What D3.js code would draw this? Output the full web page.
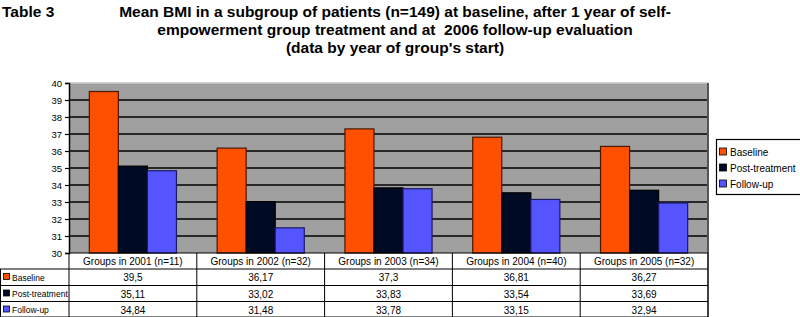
<!DOCTYPE html>
<html>
<head>
<meta charset="utf-8">
<script src="https://cdn.jsdelivr.net/npm/d3@7"></script>
<style>
  body { margin: 0; background: #fff; }
  svg { display: block; font-family: "Liberation Sans", Arial, sans-serif; }
</style>
</head>
<body>
<svg id="chart" width="800" height="317"></svg>
<script>
"use strict";

// values
const groups = ["Groups in 2001 (n=11)", "Groups in 2002 (n=32)", "Groups in 2003 (n=34)",
  "Groups in 2004 (n=40)", "Groups in 2005 (n=32)"];
const seriesNames = ["Baseline", "Post-treatment", "Follow-up"];
const baseline = [39.5, 36.17, 37.3, 36.81, 36.27];
const postTreatment = [35.11, 33.02, 33.83, 33.54, 33.69];
const followUp = [34.84, 31.48, 33.78, 33.15, 32.94];
const yTicks = [30, 31, 32, 33, 34, 35, 36, 37, 38, 39, 40];

const colors = ["#ff5000", "#000a24", "#5555ff"];
const strokes = ["#4a1800", "#000000", "#1a1a66"];
const seriesValues = [baseline, postTreatment, followUp];

const svg = d3.select("#chart");

let margins = { left: 69, right: 708, top: 83, bottom: 253 };

// titles
svg.append("text").attr("x", 2).attr("y", 17)
  .style("font-size", "15.5px").style("font-weight", "bold").text("Table 3");

let titleLines = [
  "Mean BMI in a subgroup of patients (n=149) at baseline, after 1 year of self-",
  "empowerment group treatment and at  2006 follow-up evaluation",
  "(data by year of group's start)"
];
titleLines.forEach((line, i) => {
  svg.append("text").attr("x", 395).attr("y", 17 + i * 18)
    .attr("text-anchor", "middle").attr("xml:space", "preserve")
    .style("font-size", "15.5px").style("font-weight", "bold")
    .text(line);
});

let x0 = d3.scaleBand().domain(groups).range([margins.left, margins.right]).padding(0);
let x1 = d3.scaleBand().domain(seriesNames).range([0, x0.bandwidth()])
  .paddingInner(0).paddingOuter(0.7);
let y = d3.scaleLinear().domain([30, 40]).range([margins.bottom, margins.top]);

// plot background
svg.append("rect")
  .attr("x", margins.left).attr("y", margins.top)
  .attr("width", margins.right - margins.left).attr("height", margins.bottom - margins.top)
  .style("fill", "#a0a0a0");

// gridlines
svg.append("g").selectAll("line").data(yTicks.filter(d => d > 30 && d < 40))
  .enter().append("line")
  .attr("x1", margins.left).attr("x2", margins.right)
  .attr("y1", d => y(d)).attr("y2", d => y(d))
  .style("stroke", "#000").style("stroke-width", 1.6);

// plot border top / right
svg.append("line").attr("x1", margins.left).attr("x2", margins.right)
  .attr("y1", margins.top).attr("y2", margins.top)
  .style("stroke", "#c8c8c8").style("stroke-width", 1.5);
svg.append("line").attr("x1", margins.right).attr("x2", margins.right)
  .attr("y1", margins.top).attr("y2", margins.bottom)
  .style("stroke", "#555").style("stroke-width", 2);

// bars
seriesNames.forEach((name, si) => {
  svg.append("g").selectAll("rect").data(seriesValues[si])
    .enter().append("rect")
    .attr("x", (d, i) => x0(groups[i]) + x1(name))
    .attr("y", d => y(d))
    .attr("width", x1.bandwidth())
    .attr("height", d => y(30) - y(d))
    .style("fill", colors[si])
    .style("stroke", strokes[si]).style("stroke-width", 1.2);
});

// y axis
let yAxis = d3.axisLeft(y).tickValues(yTicks).tickSize(4).tickPadding(3);
let yAxisG = svg.append("g").attr("transform", `translate(${margins.left},0)`).call(yAxis);
yAxisG.select(".domain").style("stroke", "#000").style("stroke-width", 1.5);
yAxisG.selectAll(".tick line").style("stroke", "#000").style("stroke-width", 1.2);
yAxisG.selectAll(".tick text").style("font-size", "9.5px").style("fill", "#000")
  .style("font-family", "Liberation Sans, Arial, sans-serif");

// data table
let rowTop = 253, rowH = [16, 16.5, 16, 15.5];
let rowY = [rowTop];
rowH.forEach(h => rowY.push(rowY[rowY.length - 1] + h));
let table = svg.append("g").style("font-size", "10px");

// column borders
groups.forEach((g, i) => {
  table.append("line").attr("x1", x0(g)).attr("x2", x0(g))
    .attr("y1", rowY[0]).attr("y2", rowY[4]).style("stroke", "#000");
});
table.append("line").attr("x1", margins.right).attr("x2", margins.right)
  .attr("y1", rowY[0]).attr("y2", rowY[4]).style("stroke", "#000").style("stroke-width", 1.5);
table.append("line").attr("x1", 0.5).attr("x2", 0.5)
  .attr("y1", rowY[1]).attr("y2", rowY[4]).style("stroke", "#000");
// row borders
rowY.forEach((ry, i) => {
  table.append("line").attr("x1", i === 0 ? margins.left : 0).attr("x2", margins.right)
    .attr("y1", ry).attr("y2", ry).style("stroke", "#000");
});

// header cells
groups.forEach(g => {
  table.append("text").attr("x", x0(g) + x0.bandwidth() / 2).attr("y", rowY[0] + 12)
    .attr("text-anchor", "middle").text(g);
});

// value cells
const fmt = v => String(v).replace(".", ",");
seriesNames.forEach((name, si) => {
  let ry = rowY[si + 1];
  table.append("rect").attr("x", 3.5).attr("y", ry + 4.5).attr("width", 6).attr("height", 6)
    .style("fill", colors[si]).style("stroke", "#000").style("stroke-width", 0.8);
  table.append("text").attr("x", 12).attr("y", ry + 11.5)
    .style("font-size", "8.5px").text(name);
  seriesValues[si].forEach((v, i) => {
    table.append("text").attr("x", x0(groups[i]) + x0.bandwidth() / 2).attr("y", ry + 12)
      .attr("text-anchor", "middle").text(fmt(v));
  });
});

// legend
let legend = svg.append("g");
legend.append("rect").attr("x", 716.5).attr("y", 139.5).attr("width", 90).attr("height", 55)
  .style("fill", "#fff").style("stroke", "#000").style("stroke-width", 1.2);
seriesNames.forEach((name, si) => {
  let ly = 152 + si * 16;
  legend.append("rect").attr("x", 719.5).attr("y", ly - 4).attr("width", 7).attr("height", 7)
    .style("fill", colors[si]).style("stroke", "#000").style("stroke-width", 0.8);
  legend.append("text").attr("x", 730).attr("y", ly + 4).style("font-size", "10px").text(name);
});
</script>
</body>
</html>
